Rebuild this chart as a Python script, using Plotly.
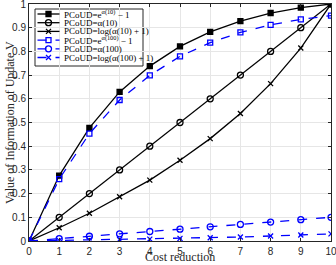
import plotly.graph_objects as go

x = [0, 1, 2, 3, 4, 5, 6, 7, 8, 9, 10]
exp10 = [0, 0.276, 0.477, 0.629, 0.738, 0.821, 0.882, 0.928, 0.962, 0.985, 1.0]
lin10 = [0, 0.1, 0.2, 0.3, 0.4, 0.5, 0.6, 0.7, 0.8, 0.9, 1.0]
log10 = [0, 0.056, 0.117, 0.187, 0.257, 0.341, 0.432, 0.538, 0.664, 0.814, 1.0]
exp100 = [0, 0.261, 0.453, 0.595, 0.699, 0.779, 0.837, 0.88, 0.912, 0.935, 0.951]
lin100 = [0, 0.01, 0.02, 0.03, 0.04, 0.05, 0.06, 0.07, 0.08, 0.09, 0.1]
log100 = [0, 0.002, 0.004, 0.006, 0.008, 0.011, 0.014, 0.017, 0.021, 0.025, 0.03]

names = [
    "PCoUD=e<sup>α(10)</sup> − 1",
    "PCoUD=α(10)",
    "PCoUD=log(α(10) + 1)",
    "PCoUD=e<sup>α(100)</sup> − 1",
    "PCoUD=α(100)",
    "PCoUD=log(α(100) + 1)",
]
yticks = [0, 0.1, 0.2, 0.3, 0.4, 0.5, 0.6, 0.7, 0.8, 0.9, 1]
yticktext = ["0", "0.1", "0.2", "0.3", "0.4", "0.5", "0.6", "0.7", "0.8", "0.9", "1"]

W, H = 336, 265
L, R, T, B = 29, 5, 4, 24
PW, PH = W - L - R, H - T - B

fig = go.Figure()
specs = [
    (exp10, "black", "solid", "square", 5),
    (lin10, "black", "solid", "circle-open", 6),
    (log10, "black", "solid", "x-thin-open", 5),
    (exp100, "blue", "dash", "square-open", 5),
    (lin100, "blue", "dash", "circle-open", 6),
    (log100, "blue", "dash", "x-thin-open", 5),
]
for (ys, col, dash, sym, sz), nm in zip(specs, names):
    fig.add_trace(go.Scatter(
        x=x, y=ys, name=nm, mode="lines+markers", showlegend=False,
        line=dict(color=col, width=1.3, dash=dash),
        marker=dict(symbol=sym, size=sz, color=col,
                    line=dict(color=col, width=1.3)),
    ))

# custom compact legend (pixel coords mapped to overlay axes)
def px(v):
    return (v - L) / PW

def py(v):
    return (H - B - v) / PH

box = dict(x0=35, x1=143, y0=9, y1=66)
fig.add_shape(type="rect", xref="paper", yref="paper",
              x0=px(box["x0"]), x1=px(box["x1"]), y0=py(box["y1"]), y1=py(box["y0"]),
              line=dict(color="#262626", width=1), fillcolor="white", layer="between")
row0, step = 14, 8.7
for i, ((ys, col, dash, sym, sz), nm) in enumerate(zip(specs, names)):
    yy = row0 + i * step
    fig.add_trace(go.Scatter(
        x=[37.5, 59.5], y=[yy, yy], xaxis="x2", yaxis="y2", mode="lines",
        showlegend=False, hoverinfo="skip",
        line=dict(color=col, width=1.3, dash="dash" if dash == "dash" else "solid"),
    ))
    fig.add_trace(go.Scatter(
        x=[48.5], y=[yy], xaxis="x2", yaxis="y2", mode="markers",
        showlegend=False, hoverinfo="skip",
        marker=dict(symbol=sym, size=sz, color=col, line=dict(color=col, width=1.3)),
    ))
    fig.add_annotation(x=px(61.5), y=py(yy), xref="paper", yref="paper",
                       text=nm, showarrow=False, xanchor="left", yanchor="middle",
                       font=dict(family="Liberation Serif", size=9, color="black"))

axis_common = dict(
    showline=True, linecolor="#262626", linewidth=1, mirror="ticks",
    ticks="inside", ticklen=3, tickcolor="#262626", automargin=False,
    showgrid=True, gridcolor="#e6e6e6", gridwidth=1, zeroline=False,
    ticklabeloverflow="allow",
    tickfont=dict(family="Liberation Sans, Arial", size=10, color="#262626"),
)
fig.update_layout(
    xaxis=dict(range=[0, 10], dtick=1, ticklabelstandoff=1, **axis_common),
    yaxis=dict(range=[0, 1], tickvals=yticks, ticktext=yticktext, **axis_common),
    xaxis2=dict(range=[L, W - R], overlaying="x", visible=False, fixedrange=True),
    yaxis2=dict(range=[H - B, T], overlaying="y", visible=False, fixedrange=True),
)
fig.add_annotation(x=0.5, y=py(265), xref="paper", yref="paper", text="Cost reduction",
                   showarrow=False, xanchor="center", yanchor="bottom", borderpad=0,
                   font=dict(family="Liberation Serif", size=12, color="#262626"))
fig.add_annotation(x=px(9.5), y=0.5, xref="paper", yref="paper",
                   text="Value of Information of Update V", textangle=-90,
                   showarrow=False, xanchor="center", yanchor="middle",
                   font=dict(family="Liberation Serif", size=12, color="#262626"))

fig.update_layout(
    width=W, height=H,
    margin=dict(l=L, r=R, t=T, b=B, autoexpand=False),
    paper_bgcolor="white", plot_bgcolor="white",
    showlegend=False,
)

fig.write_html("out.html", config={"displayModeBar": False},
               post_script="document.body.style.margin='0';document.body.style.overflow='hidden';")
